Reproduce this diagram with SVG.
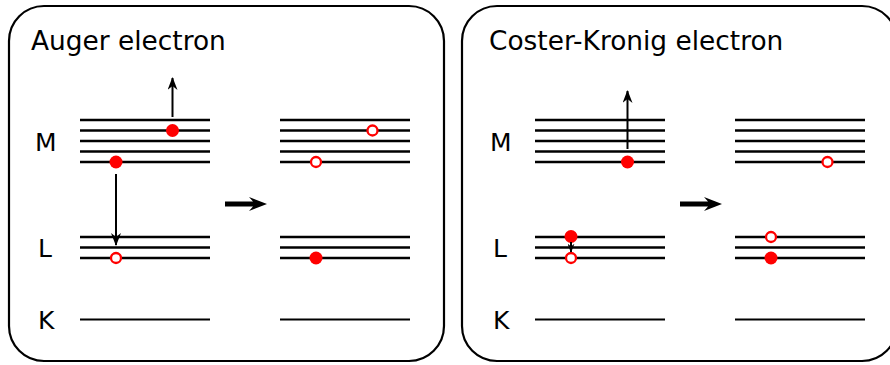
<svg xmlns="http://www.w3.org/2000/svg" width="890" height="365" viewBox="0 0 890 365">
<style>
.panel{fill:#fff;stroke:#000;stroke-width:2.2}
.lv{stroke:#000;stroke-width:2.5}
.k{stroke:#000;stroke-width:1.8}
.t{font-family:"DejaVu Sans",sans-serif;font-size:26.4px;fill:#000}
.lb{font-family:"DejaVu Sans",sans-serif;font-size:25px;fill:#000}
.full{fill:#f00}
.hole{fill:#fff;stroke:#f00;stroke-width:2.3}
.ar{stroke:#000;stroke-width:2;fill:none}
.big{fill:#000}
</style>
<defs>
<marker id="ah" viewBox="0 0 13 10" refX="12" refY="5" markerWidth="13" markerHeight="10" markerUnits="userSpaceOnUse" orient="auto">
<path d="M0,0 L13,5 L0,10 L4,5 Z" fill="#000"/>
</marker>
<marker id="ahs" viewBox="0 0 13 10" refX="12" refY="5" markerWidth="9" markerHeight="7" markerUnits="userSpaceOnUse" orient="auto">
<path d="M0,0 L13,5 L0,10 L4,5 Z" fill="#000"/>
</marker>
</defs>

<g id="panel-auger">
<rect class="panel" x="9" y="6" width="435" height="355" rx="35"/>
<text class="t" x="31" y="50">Auger electron</text>
<text class="lb" x="35" y="151">M</text>
<text class="lb" x="38" y="257">L</text>
<text class="lb" x="38" y="329">K</text>
</g>

<g id="auger-before">
<line class="lv" x1="80" y1="120" x2="210" y2="120"/>
<line class="lv" x1="80" y1="130.5" x2="210" y2="130.5"/>
<line class="lv" x1="80" y1="141" x2="210" y2="141"/>
<line class="lv" x1="80" y1="151.5" x2="210" y2="151.5"/>
<line class="lv" x1="80" y1="162" x2="210" y2="162"/>
<line class="lv" x1="80" y1="237" x2="210" y2="237"/>
<line class="lv" x1="80" y1="247.5" x2="210" y2="247.5"/>
<line class="lv" x1="80" y1="258" x2="210" y2="258"/>
<line class="k" x1="80" y1="319.5" x2="210" y2="319.5"/>
<circle class="full" cx="172.5" cy="130.5" r="6.5"/>
<circle class="full" cx="116" cy="162" r="6.5"/>
<circle class="hole" cx="116" cy="258" r="5"/>
</g>

<g id="auger-after">
<line class="lv" x1="280" y1="120" x2="410" y2="120"/>
<line class="lv" x1="280" y1="130.5" x2="410" y2="130.5"/>
<line class="lv" x1="280" y1="141" x2="410" y2="141"/>
<line class="lv" x1="280" y1="151.5" x2="410" y2="151.5"/>
<line class="lv" x1="280" y1="162" x2="410" y2="162"/>
<line class="lv" x1="280" y1="237" x2="410" y2="237"/>
<line class="lv" x1="280" y1="247.5" x2="410" y2="247.5"/>
<line class="lv" x1="280" y1="258" x2="410" y2="258"/>
<line class="k" x1="280" y1="319.5" x2="410" y2="319.5"/>
<circle class="hole" cx="372.5" cy="130.5" r="5"/>
<circle class="hole" cx="316" cy="162" r="5"/>
<circle class="full" cx="316" cy="258" r="6.5"/>
</g>

<g id="panel-ck">
<rect class="panel" x="462" y="6" width="435" height="355" rx="35"/>
<text class="t" x="489" y="50">Coster-Kronig electron</text>
<text class="lb" x="490" y="151">M</text>
<text class="lb" x="493" y="257">L</text>
<text class="lb" x="493" y="329">K</text>
</g>

<g id="ck-before">
<line class="lv" x1="535" y1="120" x2="665" y2="120"/>
<line class="lv" x1="535" y1="130.5" x2="665" y2="130.5"/>
<line class="lv" x1="535" y1="141" x2="665" y2="141"/>
<line class="lv" x1="535" y1="151.5" x2="665" y2="151.5"/>
<line class="lv" x1="535" y1="162" x2="665" y2="162"/>
<line class="lv" x1="535" y1="237" x2="665" y2="237"/>
<line class="lv" x1="535" y1="247.5" x2="665" y2="247.5"/>
<line class="lv" x1="535" y1="258" x2="665" y2="258"/>
<line class="k" x1="535" y1="319.5" x2="665" y2="319.5"/>
<circle class="full" cx="627.5" cy="162" r="6.5"/>
<circle class="full" cx="571" cy="236.5" r="6.5"/>
<circle class="hole" cx="571" cy="258" r="5"/>
</g>

<g id="ck-after">
<line class="lv" x1="735" y1="120" x2="865" y2="120"/>
<line class="lv" x1="735" y1="130.5" x2="865" y2="130.5"/>
<line class="lv" x1="735" y1="141" x2="865" y2="141"/>
<line class="lv" x1="735" y1="151.5" x2="865" y2="151.5"/>
<line class="lv" x1="735" y1="162" x2="865" y2="162"/>
<line class="lv" x1="735" y1="237" x2="865" y2="237"/>
<line class="lv" x1="735" y1="247.5" x2="865" y2="247.5"/>
<line class="lv" x1="735" y1="258" x2="865" y2="258"/>
<line class="k" x1="735" y1="319.5" x2="865" y2="319.5"/>
<circle class="hole" cx="827.5" cy="162" r="5"/>
<circle class="hole" cx="771" cy="237" r="5"/>
<circle class="full" cx="771" cy="258" r="6.5"/>
</g>

<g id="connectors">
<line class="ar" x1="172.5" y1="117" x2="172.5" y2="78" marker-end="url(#ah)"/>
<line class="ar" x1="116" y1="174" x2="116" y2="245" marker-end="url(#ah)"/>
<line class="ar" x1="627.5" y1="149" x2="627.5" y2="91" marker-end="url(#ah)"/>
<line class="ar" x1="571" y1="242" x2="571" y2="252" marker-end="url(#ahs)"/>
<path class="big" d="M225,201.5 L253,201.5 L249,197 L267,204 L249,211 L253,206.5 L225,206.5 Z"/>
<path class="big" d="M680,201.5 L708,201.5 L704,197 L722,204 L704,211 L708,206.5 L680,206.5 Z"/>
</g>
</svg>
